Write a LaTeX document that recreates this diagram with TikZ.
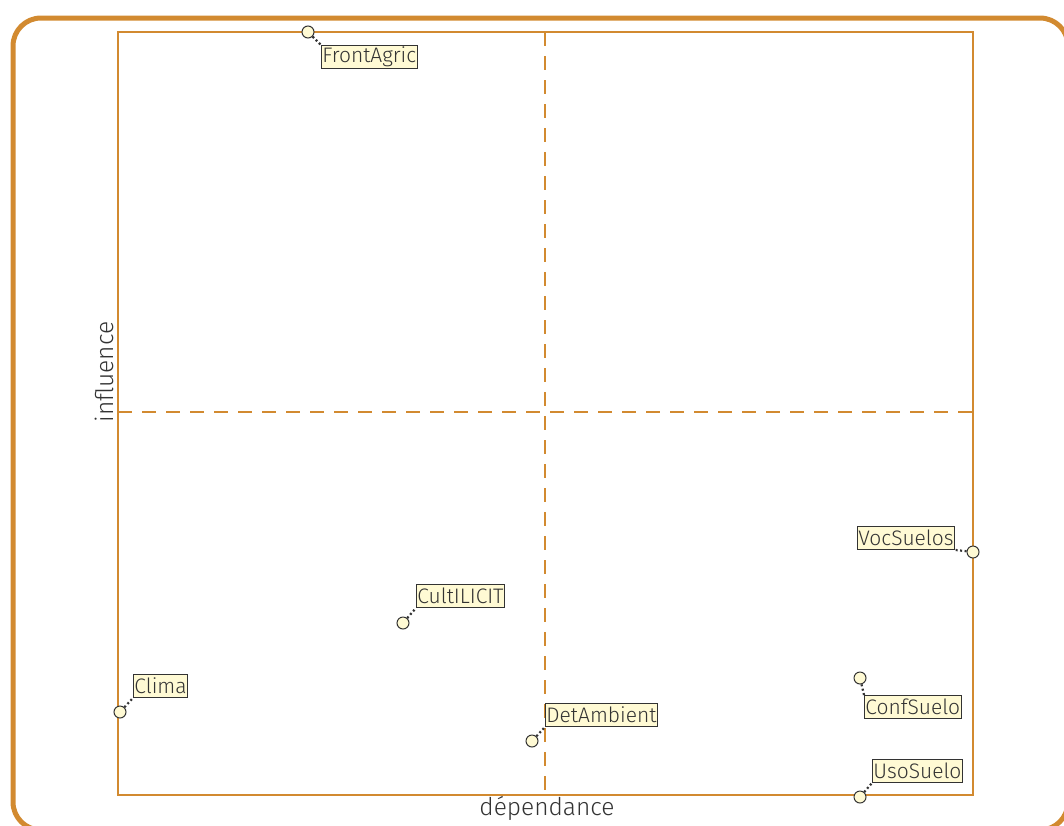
\documentclass[tikz,border=0pt]{standalone}
\usepackage{fontspec}
\IfFontExistsTF{Fira Sans Light}{\setmainfont{Fira Sans Light}}{\setmainfont{Fira Sans}}
\definecolor{frameor}{RGB}{210,138,48}
\definecolor{lblfill}{RGB}{255,250,212}
\definecolor{ink}{RGB}{51,51,51}
\tikzset{
  lbl/.style={draw=ink, line width=0.9pt, fill=lblfill, text=ink, inner xsep=1pt, inner ysep=0pt,
    minimum height=23pt, font=\fontsize{21}{23}\selectfont, anchor=north west},
  pt/.style={circle, draw=ink, fill=lblfill, line width=1pt, minimum size=12pt, inner sep=0pt},
  lead/.style={draw=ink, line width=2.2pt, dash pattern=on 2pt off 2.5pt},
  axis/.style={draw=frameor, line width=2.8pt},
  mid/.style={draw=frameor, line width=2.8pt, dash pattern=on 14pt off 10pt},
  axlbl/.style={text=ink, font=\fontsize{24.5}{27}\selectfont}
}
\begin{document}
\begin{tikzpicture}[x=1pt,y=-1pt]
\useasboundingbox (0,0) rectangle (1064,825);
\draw[draw=frameor, line width=5pt, rounded corners=28pt] (13,18) rectangle (1068,830);
\draw[axis] (118,32) rectangle (973,795);
\draw[mid] (545,32) -- (545,795);
\draw[mid] (118,412) -- (973,412);
\node[axlbl, rotate=90] (ylab) at (104,372) {influence};
\node[axlbl] (xlab) at (547,808) {dépendance};
% points
\node[pt] (p1) at (308,32) {};
\node[lbl] (l1) at (321,45) {FrontAgric};
\draw[lead] (p1) -- (l1.north west);
\node[pt] (p2) at (120,712) {};
\node[lbl] (l2) at (133,674) {Clima};
\draw[lead] (p2) -- (l2.south west);
\node[pt] (p3) at (403,623) {};
\node[lbl] (l3) at (416,584) {CultILICIT};
\draw[lead] (p3) -- (l3.south west);
\node[pt] (p4) at (532,741) {};
\node[lbl] (l4) at (545,703) {DetAmbient};
\draw[lead] (p4) -- (l4.south west);
\node[pt] (p5) at (973,552) {};
\node[lbl, anchor=north east] (l5) at (955,526) {VocSuelos};
\draw[lead] (p5) -- (l5.south east);
\node[pt] (p6) at (860,678) {};
\node[lbl] (l6) at (864,695) {ConfSuelo};
\draw[lead] (p6) -- (l6.north west);
\node[pt] (p7) at (860,797) {};
\node[lbl] (l7) at (872,759) {UsoSuelo};
\draw[lead] (p7) -- (l7.south west);
\end{tikzpicture}
\end{document}
